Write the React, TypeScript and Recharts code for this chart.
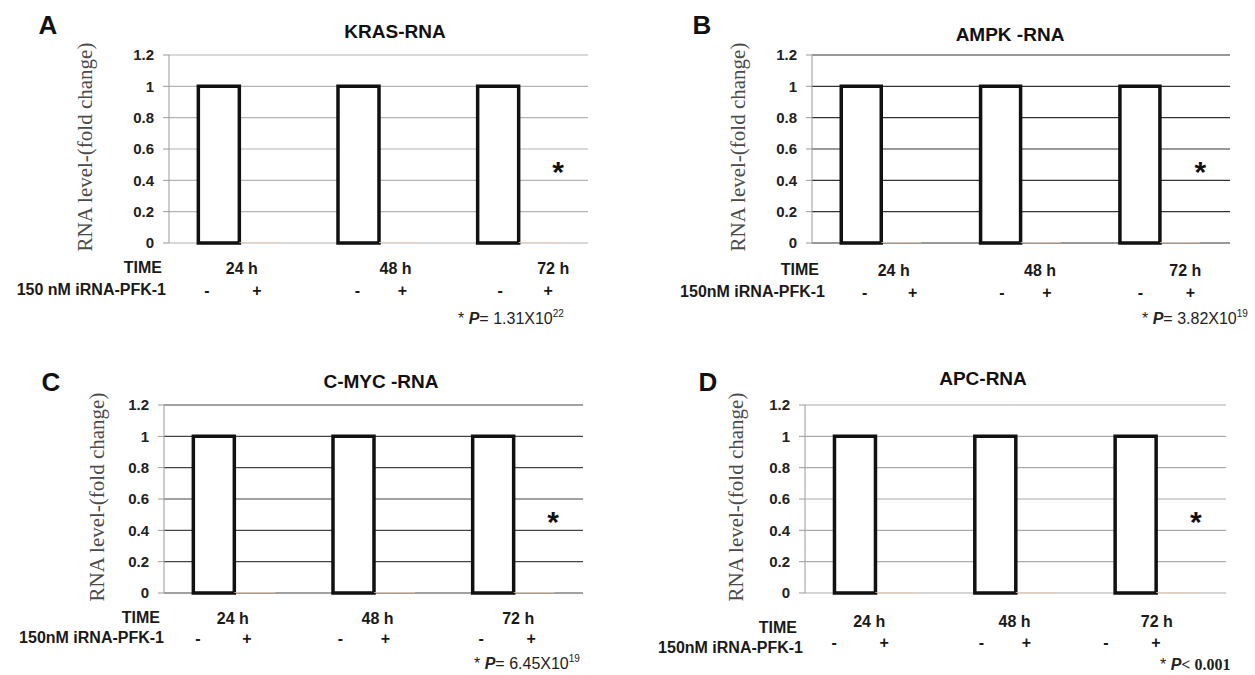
import React from 'react';
import { BarChart, Bar, XAxis, YAxis, CartesianGrid, ReferenceDot } from 'recharts';

const timePoints = ['24 h', '48 h', '72 h'];
const yTicks = [0, 0.2, 0.4, 0.6, 0.8, 1, 1.2];

// fold change: control (-) vs 150 nM iRNA-PFK-1 (+)
const krasControl = [1, 1, 1];
const krasTreated = [0.004, 0.004, 0.004];
const ampkControl = [1, 1, 1];
const ampkTreated = [0.004, 0.004, 0.004];
const cmycControl = [1, 1, 1];
const cmycTreated = [0.004, 0.004, 0.004];
const apcControl = [1, 1, 1];
const apcTreated = [0.004, 0.004, 0.004];

// height of the significance star over the 72 h group
const starLevel = 0.5;

const SANS = '"Liberation Sans", Arial, sans-serif';
const SERIF = '"Liberation Serif", "Times New Roman", serif';

const panels = [
  {
    letter: 'A', title: 'KRAS-RNA', control: krasControl, treated: krasTreated,
    treatLabel: '150 nM iRNA-PFK-1', pSign: '=', pValue: '1.31X10', pExp: '22',
    lay: {
      plot: { l: 169, r: 588, t: 55, b: 243 }, letter: [48, 25], title: [395, 32], yTitle: [85, 147],
      timeRow: [162, 268], treatRow: [166, 290], timeDx: [3, 17, 35], minusDx: [-32, -21, -18],
      plusDx: [18, 24, 30], timeY: 25, signY: 47, pText: [458, 318], grid: '#b4b4b4',
    },
  },
  {
    letter: 'B', title: 'AMPK -RNA', control: ampkControl, treated: ampkTreated,
    treatLabel: '150nM iRNA-PFK-1', pSign: '=', pValue: '3.82X10', pExp: '19',
    lay: {
      plot: { l: 812, r: 1230, t: 55, b: 243 }, letter: [702, 25], title: [1010, 35], yTitle: [738, 147],
      timeRow: [819, 270], treatRow: [825, 292], timeDx: [12, 19, 25], minusDx: [-17, -19, -20],
      plusDx: [31, 26, 30], timeY: 27, signY: 49, pText: [1142, 318], grid: '#333',
    },
  },
  {
    letter: 'C', title: 'C-MYC -RNA', control: cmycControl, treated: cmycTreated,
    treatLabel: '150nM iRNA-PFK-1', pSign: '=', pValue: '6.45X10', pExp: '19',
    lay: {
      plot: { l: 164, r: 583, t: 405, b: 593 }, letter: [51, 382], title: [381, 382], yTitle: [97, 497],
      timeRow: [160, 618], treatRow: [164, 638], timeDx: [-1, 4, 5], minusDx: [-36, -33, -32],
      plusDx: [13, 12, 18], timeY: 25, signY: 45, pText: [474, 663], grid: '#444',
    },
  },
  {
    letter: 'D', title: 'APC-RNA', control: apcControl, treated: apcTreated,
    treatLabel: '150nM iRNA-PFK-1', pSign: '<', pValue: '0.001', pExp: '',
    lay: {
      plot: { l: 805, r: 1226, t: 405, b: 593 }, letter: [708, 382], title: [983, 379], yTitle: [736, 497],
      timeRow: [797, 628], treatRow: [803, 648], timeDx: [-6, -1, 1], minusDx: [-41, -34, -50],
      plusDx: [9, 11, 0], timeY: 28, signY: 49, pText: [1160, 665], grid: '#aaa',
    },
  },
];

const LEFT_PAD = 90;
const Y_AXIS_W = 50;
const X_AXIS_H = 70;

function GroupTick(props: any) {
  const { x, y, payload, lay } = props;
  const i = timePoints.indexOf(payload.value);
  const txt = { fontFamily: SANS, fontWeight: 'bold', fontSize: 16, fill: '#1a1a1a' } as any;
  return (
    <g>
      <text x={x + lay.timeDx[i]} y={y + lay.timeY} textAnchor="middle" dominantBaseline="central" {...txt}>
        {payload.value}
      </text>
      <text x={x + lay.minusDx[i]} y={y + lay.signY} textAnchor="middle" dominantBaseline="central" {...txt}>
        -
      </text>
      <text x={x + lay.plusDx[i]} y={y + lay.signY} textAnchor="middle" dominantBaseline="central" {...txt}>
        +
      </text>
    </g>
  );
}

function Star(props: any) {
  const { viewBox } = props;
  return (
    <text x={viewBox.x + 40} y={viewBox.y + 17} textAnchor="middle" fontFamily={SANS} fontWeight="bold" fontSize={30} fill="#111">
      *
    </text>
  );
}

function Panel({ p }: { p: any }) {
  const lay = p.lay;
  const data = timePoints.map((t, i) => ({ time: t, control: p.control[i], treated: p.treated[i] }));
  const plotW = lay.plot.r - lay.plot.l;
  const plotH = lay.plot.b - lay.plot.t;
  const chartW = plotW + LEFT_PAD + 10;
  const chartH = plotH + 10 + X_AXIS_H + 5;

  const centered = (x: number, y: number): React.CSSProperties => ({
    position: 'absolute', left: x, top: y, transform: 'translate(-50%, -50%)', whiteSpace: 'nowrap',
  });
  const rightAligned = (x: number, y: number): React.CSSProperties => ({
    position: 'absolute', left: x, top: y, transform: 'translate(-100%, -50%)', whiteSpace: 'nowrap',
  });

  return (
    <>
      <div style={{ position: 'absolute', left: lay.plot.l - LEFT_PAD, top: lay.plot.t - 10 }}>
        <BarChart
          width={chartW}
          height={chartH}
          data={data}
          margin={{ top: 10, right: 10, left: LEFT_PAD - Y_AXIS_W, bottom: 5 }}
          barCategoryGap="21%"
          barGap={0}
        >
          <CartesianGrid vertical={false} stroke={lay.grid} strokeWidth={1.2} />
          <XAxis
            dataKey="time"
            height={X_AXIS_H}
            axisLine={false}
            tickLine={false}
            tickSize={0}
            tickMargin={0}
            interval={0}
            tick={(tp: any) => <GroupTick {...tp} lay={lay} />}
          />
          <YAxis
            width={Y_AXIS_W}
            domain={[0, 1.2]}
            ticks={yTicks}
            interval={0}
            axisLine={{ stroke: '#999' }}
            tickLine={{ stroke: '#999' }}
            tickSize={6}
            tickMargin={9}
            tick={{ fontFamily: SANS, fontWeight: 'bold', fontSize: 15, fill: '#222' }}
          />
          <Bar dataKey="control" fill="#fff" stroke="#111" strokeWidth={3.5} isAnimationActive={false} />
          <Bar dataKey="treated" fill="#edcdb4" stroke="none" isAnimationActive={false} />
          <ReferenceDot x="72 h" y={starLevel} r={0} fill="none" stroke="none" label={{ content: Star }} />
        </BarChart>
      </div>

      <div style={{ ...centered(lay.letter[0], lay.letter[1]), fontFamily: SANS, fontWeight: 'bold', fontSize: 26, color: '#111' }}>
        {p.letter}
      </div>
      <div style={{ ...centered(lay.title[0], lay.title[1]), fontFamily: SANS, fontWeight: 'bold', fontSize: 19, color: '#111' }}>
        {p.title}
      </div>
      <div
        style={{
          position: 'absolute', left: lay.yTitle[0], top: lay.yTitle[1],
          transform: 'translate(-50%, -50%) rotate(-90deg)', whiteSpace: 'nowrap',
          fontFamily: SERIF, fontSize: 21, color: '#4a4a4a',
        }}
      >
        RNA level-(fold change)
      </div>
      <div style={{ ...rightAligned(lay.timeRow[0], lay.timeRow[1]), fontFamily: SANS, fontWeight: 'bold', fontSize: 16, color: '#1a1a1a' }}>
        TIME
      </div>
      <div style={{ ...rightAligned(lay.treatRow[0], lay.treatRow[1]), fontFamily: SANS, fontWeight: 'bold', fontSize: 16, color: '#1a1a1a' }}>
        {p.treatLabel}
      </div>
      <div
        style={{
          position: 'absolute', left: lay.pText[0], top: lay.pText[1], transform: 'translateY(-50%)',
          whiteSpace: 'nowrap', fontFamily: SANS, fontSize: 16, color: '#222',
        }}
      >
        *{' '}
        <span style={{ fontStyle: 'italic', fontWeight: 'bold' }}>P</span>
        {p.pExp ? (
          <>
            {p.pSign} {p.pValue}
            <sup style={{ fontSize: 10 }}>{p.pExp}</sup>
          </>
        ) : (
          <span style={{ fontFamily: SERIF, fontWeight: 'bold' }}>
            {p.pSign} {p.pValue}
          </span>
        )}
      </div>
    </>
  );
}

export default function App() {
  return (
    <div style={{ position: 'absolute', left: 0, top: 0, width: 1255, height: 675, background: '#fff', overflow: 'hidden' }}>
      {panels.map((p) => (
        <Panel key={p.letter} p={p} />
      ))}
    </div>
  );
}
